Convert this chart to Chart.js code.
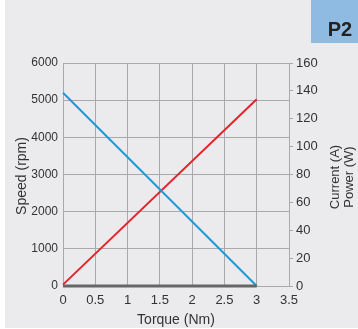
<!DOCTYPE html>
<html>
<head>
<meta charset="utf-8">
<script src="https://cdn.jsdelivr.net/npm/chart.js@4"></script>
<style>
  html, body { margin: 0; padding: 0; background: #ffffff; }
  #wrap { width: 358px; height: 329px; position: relative; }
</style>
</head>
<body>
<div id="wrap"><canvas id="motorChart" width="358" height="329"></canvas></div>
<script>
// values
const torque = [0, 3];
const speedRpm = [5200, 0];
const currentPower = [1, 134];
const baseline = [0, 0];

const xTicks = [0, 0.5, 1, 1.5, 2, 2.5, 3, 3.5];
const speedTicks = [0, 1000, 2000, 3000, 4000, 5000, 6000];
const rightTicks = [0, 20, 40, 60, 80, 100, 120, 140, 160];

const gridColor = '#a9a9ab';
const textColor = '#333333';
const fontFamily = '"Liberation Sans", Arial, sans-serif';

function toPoints(xs, ys) {
  return xs.map((x, i) => ({ x: x, y: ys[i] }));
}

// background panel, the P2 tag and the rotated titles
const decorPlugin = {
  id: 'decor',
  beforeDraw(chart) {
    const c = chart.ctx;
    c.save();
    c.fillStyle = '#ebebed';
    c.fillRect(5, 0, 353, 328);
    c.fillStyle = '#8fbae2';
    c.fillRect(311, 0, 47, 43);
    c.restore();
  },
  afterDraw(chart) {
    const c = chart.ctx;
    c.save();
    c.fillStyle = '#222222';
    c.font = 'bold 20px ' + fontFamily;
    c.textAlign = 'center';
    c.textBaseline = 'middle';
    c.fillText('P2', 340, 30);

    c.fillStyle = textColor;
    c.font = '14px ' + fontFamily;
    c.fillText('Torque (Nm)', 176, 320);

    c.translate(22, 176);
    c.rotate(-Math.PI / 2);
    c.fillText('Speed (rpm)', 0, 0);
    c.restore();

    c.save();
    c.fillStyle = textColor;
    c.font = '13px ' + fontFamily;
    c.textAlign = 'center';
    c.textBaseline = 'middle';
    c.translate(335, 177);
    c.rotate(-Math.PI / 2);
    c.fillText('Current (A)', 0, 0);
    c.fillText('Power (W)', 0, 14);
    c.restore();
  }
};

new Chart(document.getElementById('motorChart').getContext('2d'), {
  type: 'line',
  data: {
    datasets: [
      {
        label: 'Base',
        data: toPoints(torque, baseline),
        yAxisID: 'y',
        borderColor: '#666666',
        borderWidth: 3,
        pointRadius: 0,
        clip: 6
      },
      {
        label: 'Speed',
        data: toPoints(torque, speedRpm),
        yAxisID: 'y',
        borderColor: '#1e9ad6',
        borderWidth: 2,
        pointRadius: 0,
        clip: 4
      },
      {
        label: 'Current / Power',
        data: toPoints(torque, currentPower),
        yAxisID: 'y1',
        borderColor: '#e5232b',
        borderWidth: 2,
        pointRadius: 0,
        clip: 4
      }
    ]
  },
  options: {
    responsive: false,
    animation: false,
    layout: { padding: { left: 0, right: 0, top: 63, bottom: 0 } },
    plugins: {
      legend: { display: false },
      tooltip: { enabled: false }
    },
    scales: {
      x: {
        type: 'linear',
        min: 0,
        max: 3.5,
        afterBuildTicks: s => { s.ticks = xTicks.map(v => ({ value: v })); },
        afterFit: s => { s.height = 43; },
        grid: {
          color: ctx => (ctx.tick && ctx.tick.value === 3.5 ? 'rgba(0,0,0,0)' : gridColor),
          drawTicks: false
        },
        border: { color: gridColor },
        ticks: {
          padding: 7,
          color: textColor,
          font: { family: fontFamily, size: 13 },
          maxRotation: 0,
          callback: v => String(v)
        }
      },
      y: {
        position: 'left',
        min: 0,
        max: 6000,
        afterBuildTicks: s => { s.ticks = speedTicks.map(v => ({ value: v })); },
        afterFit: s => { s.width = 63; },
        grid: { color: gridColor, drawTicks: false },
        border: { color: gridColor },
        ticks: {
          padding: 5,
          color: textColor,
          font: { family: fontFamily, size: 12 },
          callback: v => String(v)
        }
      },
      y1: {
        position: 'right',
        min: 0,
        max: 160,
        afterBuildTicks: s => { s.ticks = rightTicks.map(v => ({ value: v })); },
        afterFit: s => { s.width = 69; },
        grid: { drawOnChartArea: false, drawTicks: true, tickLength: 4, color: gridColor },
        border: { color: gridColor },
        ticks: {
          padding: 3,
          color: textColor,
          font: { family: fontFamily, size: 13 },
          callback: v => String(v)
        }
      }
    }
  },
  plugins: [decorPlugin]
});
</script>
</body>
</html>
